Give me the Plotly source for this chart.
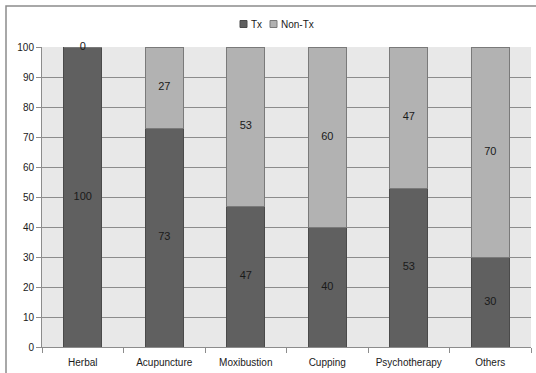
import plotly.graph_objects as go

categories = ["Herbal", "Acupuncture", "Moxibustion", "Cupping", "Psychotherapy", "Others"]
tx_values = [100, 73, 47, 40, 53, 30]
non_tx_values = [0, 27, 53, 60, 47, 70]
y_ticks = [0, 10, 20, 30, 40, 50, 60, 70, 80, 90, 100]

W, H = 536, 373
L, R, T, B = 42, 5, 47, 26
FONT = "Liberation Sans"
pw = W - L - R
ph = H - T - B


def px_x(p):
    return (p - L) / pw


def px_y(p):
    return (H - B - p) / ph


tx_color, tx_edge = "#606060", "#4a4a4a"
non_color, non_edge = "#b2b2b2", "#7a7a7a"

fig = go.Figure()
fig.add_trace(go.Bar(
    name="Tx", x=categories, y=tx_values, showlegend=False,
    marker=dict(color=tx_color, line=dict(color=tx_edge, width=1)),
))
fig.add_trace(go.Bar(
    name="Non-Tx", x=categories, y=non_tx_values, showlegend=False,
    marker=dict(color=non_color, line=dict(color=non_edge, width=1)),
))

# value labels centred in each stacked segment
tx_mid = [v / 2 for v in tx_values]
non_mid = [t + n / 2 for t, n in zip(tx_values, non_tx_values)]
fig.add_trace(go.Scatter(
    x=categories + categories,
    y=tx_mid + non_mid,
    text=[str(v) for v in tx_values + non_tx_values],
    mode="text", textfont=dict(size=11, color="#1a1a1a", family=FONT),
    showlegend=False, hoverinfo="skip", cliponaxis=False,
))

# outer chart frame
fig.add_shape(type="rect", xref="paper", yref="paper",
              x0=px_x(6), x1=1.2, y0=-0.3, y1=px_y(6),
              line=dict(color="#8c8c8c", width=1.5), layer="below")

# compact legend: small square key followed by its label
legend_items = [("Tx", tx_color, tx_edge, 240), ("Non-Tx", non_color, non_edge, 270)]
for name, c, e, x0 in legend_items:
    fig.add_shape(type="rect", xref="paper", yref="paper",
                  x0=px_x(x0), x1=px_x(x0 + 7), y0=px_y(27.5), y1=px_y(20.5),
                  fillcolor=c, line=dict(color=e, width=1))
    fig.add_annotation(xref="paper", yref="paper", x=px_x(x0 + 8.5), y=px_y(24),
                       text=name, showarrow=False, xanchor="left", yanchor="middle",
                       font=dict(size=10, family=FONT, color="#1a1a1a"))

fig.update_layout(
    width=W, height=H, barmode="stack", bargap=0.53,
    margin=dict(l=L, r=R, t=T, b=B),
    paper_bgcolor="white", plot_bgcolor="#e8e8e8",
    font=dict(family=FONT, size=10, color="#1a1a1a"),
    showlegend=False,
    xaxis=dict(showgrid=False, showline=True, linecolor="#8c8c8c", tickangle=0,
               ticks="outside", tickson="boundaries", ticklen=5, tickcolor="#8c8c8c",
               ticklabelstandoff=6, tickfont=dict(size=10)),
    yaxis=dict(range=[0, 100], tickvals=y_ticks, showgrid=True, gridcolor="#8c8c8c",
               gridwidth=1, showline=True, linecolor="#8c8c8c", ticks="outside",
               ticklen=5, tickcolor="#8c8c8c", zeroline=False, tickfont=dict(size=10)),
)

fig.write_html("out.html")
